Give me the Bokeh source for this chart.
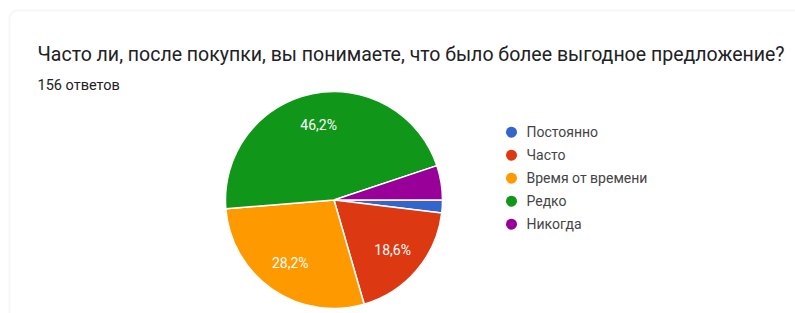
import numpy as np
from bokeh.plotting import figure
from bokeh.models import ColumnDataSource, Range1d, Label, BoxAnnotation
from bokeh.core.properties import value
from bokeh.embed import file_html
from bokeh.resources import INLINE

# ---- data ----
title = "Часто ли, после покупки, вы понимаете, что было более выгодное предложение?"
subtitle = "156 ответов"
categories = ["Постоянно", "Часто", "Время от времени", "Редко", "Никогда"]
counts = [3, 29, 44, 72, 8]
colors = ["#3366cc", "#dc3912", "#ff9900", "#109618", "#990099"]

# ---- layout (pixel-like data coordinates, y up) ----
W, H = 795, 313
cx, cy, r = 333.5, 113.5, 108.5
start0 = 0.0

p = figure(width=W, height=H, x_range=Range1d(0, W), y_range=Range1d(0, H),
           output_backend="svg", toolbar_location=None, min_border=0,
           x_axis_location=None, y_axis_location=None)
p.grid.visible = False
p.outline_line_color = None
p.background_fill_color = "white"
p.border_fill_color = "white"

# card border
p.add_layout(BoxAnnotation(left=9, right=W + 40, bottom=-40, top=303,
                           fill_color=None, line_color="#e3e3e3", line_width=2,
                           border_radius=8))

counts_arr = np.array(counts, dtype=float)
frac = counts_arr / counts_arr.sum()
cum = np.concatenate([[0], np.cumsum(frac)])
starts = start0 - 2 * np.pi * cum[:-1]
ends = start0 - 2 * np.pi * cum[1:]

src = ColumnDataSource(dict(start=starts, end=ends, color=colors, cat=categories))
p.wedge(x=cx, y=cy, radius=r, start_angle="start", end_angle="end",
        direction="clock", fill_color="color", line_color="white",
        line_width=1.5, source=src)

# slice labels
mids = (starts + ends) / 2
lab_x, lab_y, lab_t = [], [], []
for f, m in zip(frac, mids):
    if f >= 0.10:
        lab_x.append(cx + 0.71 * r * np.cos(m))
        lab_y.append(cy + 0.71 * r * np.sin(m))
        lab_t.append(f"{f*100:.1f}".replace(".", ",") + "%")
p.text(x=lab_x, y=lab_y, text=lab_t, text_color="white",
       text_font=value("Roboto"), text_font_size="14px",
       text_align="center", text_baseline="middle")

# title + subtitle
p.add_layout(Label(x=37, y=259, text=title, text_font="Roboto",
                   text_font_size="19.5px", text_color="#202124",
                   text_baseline="alphabetic"))
p.add_layout(Label(x=37, y=228, text=subtitle, text_font="Roboto",
                   text_font_size="14.5px", text_color="#202124",
                   text_baseline="alphabetic"))

# legend
leg_y = [181.3 - 23 * i for i in range(len(categories))]
p.scatter(x=[511] * len(categories), y=leg_y, size=11, marker="circle",
          fill_color=colors, line_color=None)
p.text(x=[526] * len(categories), y=leg_y, text=categories,
       text_font=value("Roboto"), text_font_size="14px", text_color="#444444",
       text_baseline="middle", text_align="left")

open("out.html", "w").write(file_html(p, INLINE))
